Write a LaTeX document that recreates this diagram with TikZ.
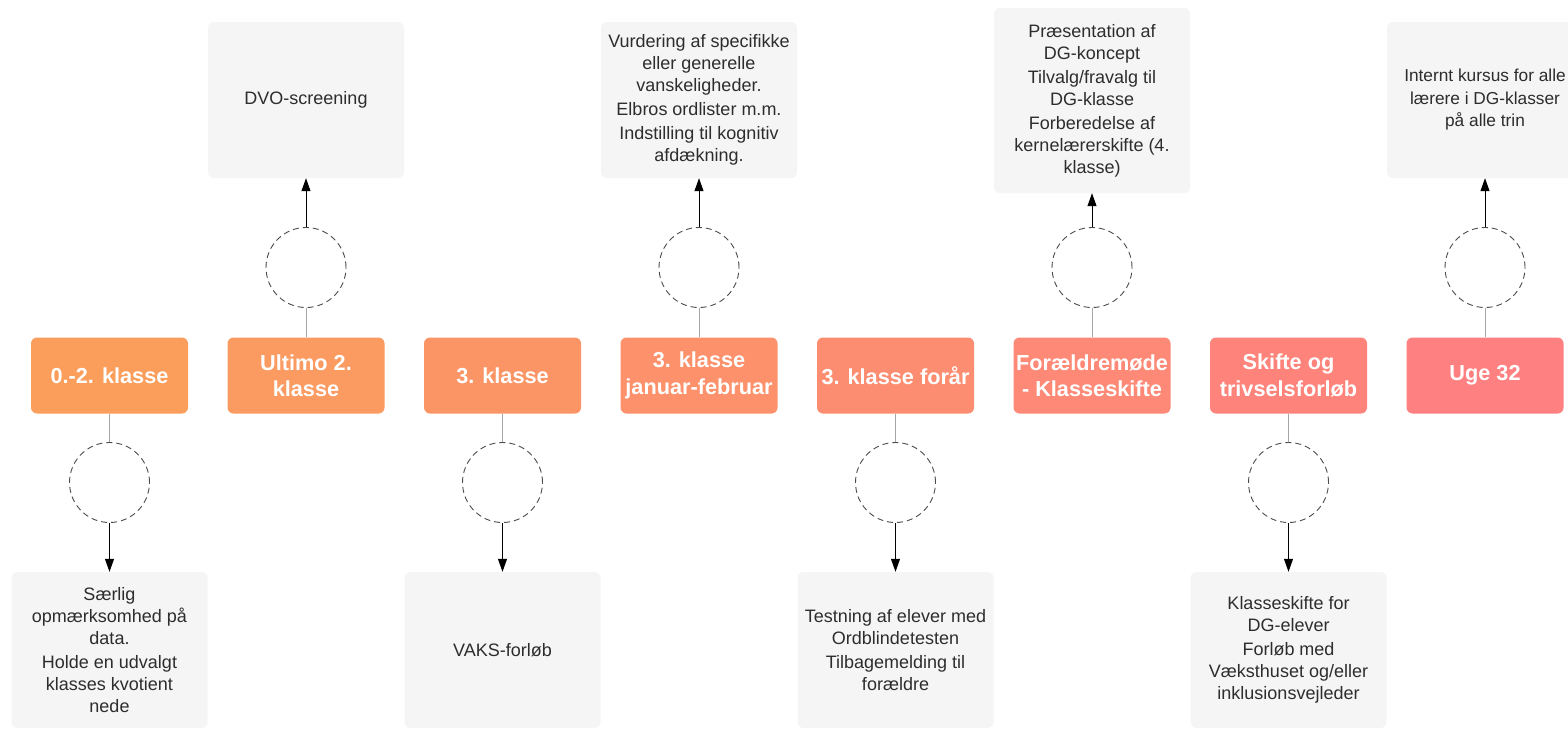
\documentclass[tikz,border=0pt]{standalone}
\usepackage{fontspec}
\setmainfont{Liberation Sans}
\usetikzlibrary{arrows.meta}
\definecolor{cstart}{RGB}{251,158,92}
\definecolor{cend}{RGB}{254,128,128}
\definecolor{boxgray}{RGB}{245,245,245}
\definecolor{txtgray}{RGB}{45,45,45}
\begin{document}
\begin{tikzpicture}[x=1pt,y=1pt,
 phase/.style={rectangle, rounded corners=6pt, minimum width=157pt, minimum height=76pt, inner sep=0pt, text=white, font=\bfseries\fontsize{21.7}{26.5}\selectfont, align=center},
 info/.style={rectangle, rounded corners=6pt, fill=boxgray, minimum width=196pt, minimum height=156pt, inner sep=0pt, text=txtgray, font=\fontsize{18}{22}\selectfont, align=center},
 hub/.style={circle, draw=black!70, dash pattern=on 6pt off 4pt, line width=0.9pt, minimum size=80pt, inner sep=0pt},
 link/.style={draw=black!35, line width=0.9pt},
 arr/.style={draw=black, line width=1pt, -{Triangle[length=13pt,width=9pt]}},
]
\clip (0,0) rectangle (1568,-728);
\fill[white] (0,0) rectangle (1568,-728);

% column 1
\node[phase, fill=cend!0!cstart] (p1) at (109.5,-375.5) {0.-2. klasse};
\node[hub] (h1) at (109.5,-482.5) {};
\node[info] (i1) at (109.5,-650) {Særlig\\opmærksomhed på\\data.\\[2pt]Holde en udvalgt\\klasses kvotient\\nede};
\draw[link] (p1) -- (h1);
\draw[arr] (h1) -- (i1);

% column 2
\node[phase, fill=cend!14!cstart] (p2) at (306,-375.5) {Ultimo 2.\\klasse};
\node[hub] (h2) at (306,-267.5) {};
\node[info] (i2) at (306,-100) {DVO-screening};
\draw[link] (p2) -- (h2);
\draw[arr] (h2) -- (i2);

% column 3
\node[phase, fill=cend!29!cstart] (p3) at (502.5,-375.5) {3. klasse};
\node[hub] (h3) at (502.5,-482.5) {};
\node[info] (i3) at (502.5,-650) {VAKS-forløb};
\draw[link] (p3) -- (h3);
\draw[arr] (h3) -- (i3);

% column 4
\node[phase, fill=cend!43!cstart] (p4) at (699,-375.5) {3. klasse\\januar-februar};
\node[hub] (h4) at (699,-267.5) {};
\node[info] (i4) at (699,-100) {Vurdering af specifikke\\eller generelle\\vanskeligheder.\\[2pt]Elbros ordlister m.m.\\[2pt]Indstilling til kognitiv\\afdækning.};
\draw[link] (p4) -- (h4);
\draw[arr] (h4) -- (i4);

% column 5
\node[phase, fill=cend!57!cstart] (p5) at (895.5,-375.5) {3. klasse forår};
\node[hub] (h5) at (895.5,-482.5) {};
\node[info] (i5) at (895.5,-650) {Testning af elever med\\Ordblindetesten\\[2pt]Tilbagemelding til\\forældre};
\draw[link] (p5) -- (h5);
\draw[arr] (h5) -- (i5);

% column 6
\node[phase, fill=cend!71!cstart] (p6) at (1092,-375.5) {Forældremøde\\- Klasseskifte};
\node[hub] (h6) at (1092,-267.5) {};
\node[info, minimum height=185pt] (i6) at (1092,-100.5) {Præsentation af\\DG-koncept\\[2pt]Tilvalg/fravalg til\\DG-klasse\\[2pt]Forberedelse af\\kernelærerskifte (4.\\klasse)};
\draw[link] (p6) -- (h6);
\draw[arr] (h6) -- (i6);

% column 7
\node[phase, fill=cend!86!cstart] (p7) at (1288.5,-375.5) {Skifte og\\trivselsforløb};
\node[hub] (h7) at (1288.5,-482.5) {};
\node[info] (i7) at (1288.5,-650) {Klasseskifte for\\DG-elever\\[2pt]Forløb med\\Væksthuset og/eller\\inklusionsvejleder};
\draw[link] (p7) -- (h7);
\draw[arr] (h7) -- (i7);

% column 8
\node[phase, fill=cend!100!cstart] (p8) at (1485,-375.5) {Uge 32};
\node[hub] (h8) at (1485,-267.5) {};
\node[info, font=\fontsize{17.3}{22.5}\selectfont] (i8) at (1485,-100) {Internt kursus for alle\\lærere i DG-klasser\\på alle trin};
\draw[link] (p8) -- (h8);
\draw[arr] (h8) -- (i8);
\end{tikzpicture}
\end{document}
